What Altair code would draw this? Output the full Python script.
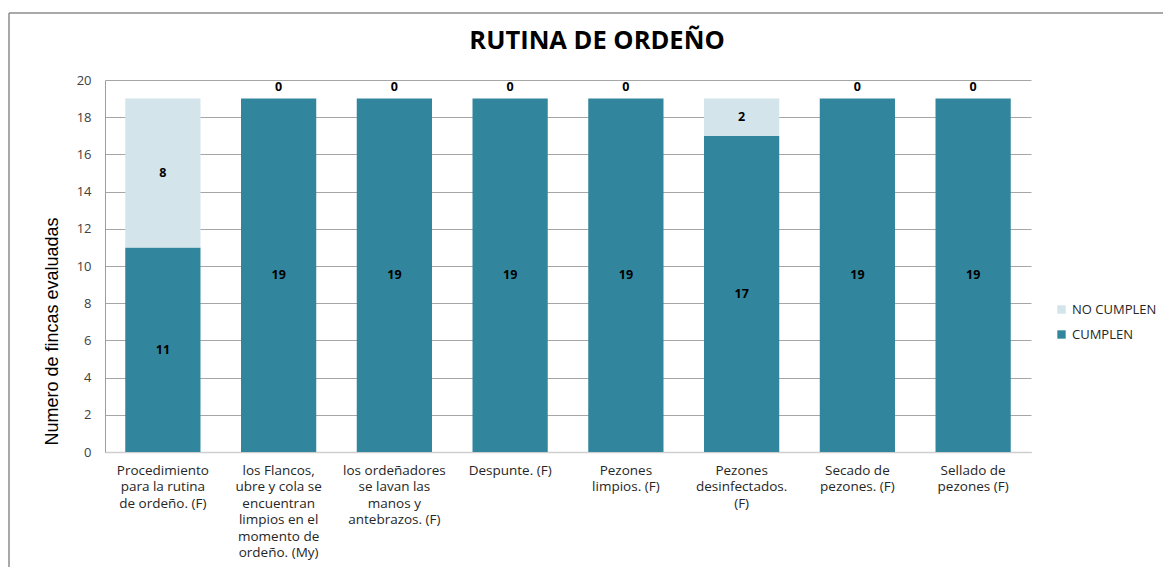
import altair as alt
import pandas as pd

title_text = "RUTINA DE ORDEÑO"
y_title = "Numero de fincas evaluadas"
categories = [
    "Procedimiento\npara la rutina\nde ordeño. (F)",
    "los Flancos,\nubre y cola se\nencuentran\nlimpios en el\nmomento de\nordeño. (My)",
    "los ordeñadores\nse lavan las\nmanos y\nantebrazos. (F)",
    "Despunte. (F)",
    "Pezones\nlimpios. (F)",
    "Pezones\ndesinfectados.\n(F)",
    "Secado de\npezones. (F)",
    "Sellado de\npezones (F)",
]
cumplen = [11, 19, 19, 19, 19, 17, 19, 19]
no_cumplen = [8, 0, 0, 0, 0, 2, 0, 0]
y_ticks = [0, 2, 4, 6, 8, 10, 12, 14, 16, 18, 20]
series = ["NO CUMPLEN", "CUMPLEN"]
colors = ["#D4E4EB", "#31869E"]

rows = []
for cat, c, n in zip(categories, cumplen, no_cumplen):
    rows.append({"cat": cat, "serie": "CUMPLEN", "v": c, "y0": 0, "y1": c})
    rows.append({"cat": cat, "serie": "NO CUMPLEN", "v": n, "y0": c, "y1": c + n})
df = pd.DataFrame(rows)
df["mid"] = (df["y0"] + df["y1"]) / 2

FONT = "Open Sans"

x_axis = alt.Axis(
    labelExpr="split(datum.label, '\\n')",
    labelAngle=0,
    labelFont=FONT,
    labelFontSize=13.5,
    labelColor="#262626",
    labelLineHeight=16.5,
    labelPadding=11,
    labelBaseline="top",
    labelLimit=200,
    ticks=False,
    grid=False,
    domainColor="#cfcfcf",
    domainWidth=1.5,
)
x_scale = alt.Scale(paddingInner=0.35, paddingOuter=0.175)

y_axis = alt.Axis(
    values=y_ticks,
    labelFont=FONT,
    labelFontSize=13,
    labelColor="#404040",
    labelPadding=14,
    labelOverlap=False,
    ticks=False,
    grid=True,
    domainColor="#9e9e9e",
    gridColor="#a6a6a6",
    titleFont="Liberation Sans",
    titleFontSize=18,
    titleFontWeight="normal",
    titleColor="#000000",
    titleX=-53,
    titleY=251,
    titleAngle=-90,
    titleAlign="center",
    titleBaseline="middle",
)
y_scale = alt.Scale(domain=[0, 20])


def xe():
    return alt.X("cat:N", sort=categories, title=None, scale=x_scale, axis=x_axis)


def ye(field):
    return alt.Y(field, scale=y_scale, title=y_title, axis=y_axis)


base = alt.Chart(df)

bars = base.transform_filter("datum.v > 0").mark_bar().encode(
    x=xe(),
    y=ye("y0:Q"),
    y2="y1:Q",
    color=alt.Color(
        "serie:N",
        scale=alt.Scale(domain=series, range=colors),
        legend=alt.Legend(
            title=None,
            orient="none",
            legendX=950,
            legendY=223,
            symbolType="square",
            symbolSize=70,
            symbolStrokeWidth=0,
            labelFont=FONT,
            labelFontSize=13,
            labelColor="#262626",
            labelOffset=4,
            labelLimit=200,
            rowPadding=11,
        ),
    ),
)

labels_mid = base.transform_filter("datum.v > 0").mark_text(
    font=FONT, fontSize=12.5, fontWeight="bold", color="#000000"
).encode(x=xe(), y=ye("mid:Q"), text="v:Q")

labels_zero = base.transform_filter("datum.v == 0").mark_text(
    font=FONT, fontSize=12.5, fontWeight="bold", color="#000000", dy=-12
).encode(x=xe(), y=ye("y1:Q"), text="v:Q")

single = alt.Chart(alt.Data(values=[{"t": title_text}]))
title_mark = single.mark_text(
    font=FONT, fontSize=25.5, fontWeight="bold", color="#000000",
    align="center", baseline="alphabetic",
).encode(x=alt.value(492), y=alt.value(-31), text="t:N")

frame_top = single.mark_rule(color="#8c8c8c", strokeWidth=1.5).encode(
    x=alt.value(-96), x2=alt.value(1066), y=alt.value(-67)
)
frame_left = single.mark_rule(color="#8c8c8c", strokeWidth=1.5).encode(
    x=alt.value(-96), y=alt.value(-67), y2=alt.value(520)
)

chart = alt.layer(
    bars, labels_mid, labels_zero, title_mark, frame_top, frame_left
).properties(
    width=926,
    height=372,
    padding={"left": 97, "top": 72, "right": 132, "bottom": 115},
    autosize=alt.AutoSizeParams(type="none"),
).configure_view(stroke=None)

chart.save("out.html", embed_options={"renderer": "svg", "actions": False})
